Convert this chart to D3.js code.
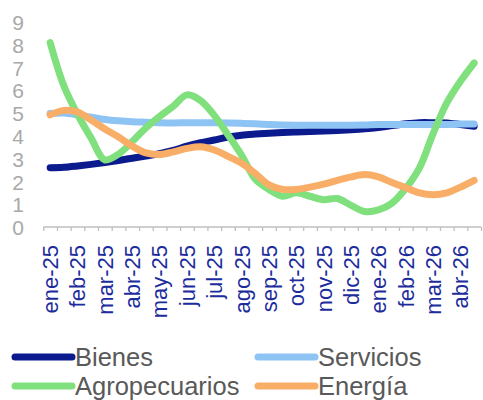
<!DOCTYPE html>
<html><head><meta charset="utf-8">
<script src="https://cdn.jsdelivr.net/npm/d3@7"></script>
<style>body{margin:0;background:#fff}svg{display:block}</style>
</head><body><svg id="c" width="483" height="400"></svg>
<script>
// Semi-monthly periods (two per month), labelled on the first half of each month
const categories = ["ene-25 I","ene-25 II","feb-25 I","feb-25 II","mar-25 I","mar-25 II","abr-25 I","abr-25 II",
  "may-25 I","may-25 II","jun-25 I","jun-25 II","jul-25 I","jul-25 II","ago-25 I","ago-25 II",
  "sep-25 I","sep-25 II","oct-25 I","oct-25 II","nov-25 I","nov-25 II","dic-25 I","dic-25 II",
  "ene-26 I","ene-26 II","feb-26 I","feb-26 II","mar-26 I","mar-26 II","abr-26 I","abr-26 II"];
const tickLabels = ["ene-25","","feb-25","","mar-25","","abr-25","","may-25","","jun-25","","jul-25","","ago-25","",
  "sep-25","","oct-25","","nov-25","","dic-25","","ene-26","","feb-26","","mar-26","","abr-26",""];
const yTicks = [0,1,2,3,4,5,6,7,8,9];

const bienes = [2.60,2.62,2.68,2.75,2.83,2.92,3.02,3.12,3.22,3.36,3.55,3.70,3.82,3.95,4.03,4.08,
  4.12,4.15,4.17,4.19,4.21,4.24,4.27,4.31,4.37,4.45,4.53,4.58,4.58,4.57,4.50,4.42];
const servicios = [4.98,5.00,4.92,4.82,4.72,4.66,4.62,4.60,4.58,4.57,4.58,4.58,4.58,4.57,4.55,4.53,
  4.50,4.48,4.47,4.47,4.47,4.47,4.47,4.48,4.50,4.50,4.50,4.50,4.50,4.50,4.52,4.52];
const agropecuarios = [8.10,6.20,4.95,3.90,2.95,3.20,3.75,4.35,4.85,5.30,5.80,5.55,4.90,4.05,3.15,2.10,
  1.65,1.35,1.50,1.35,1.20,1.25,0.95,0.68,0.75,1.05,1.70,2.60,4.10,5.45,6.40,7.20];
const energia = [4.92,5.12,5.05,4.70,4.30,3.95,3.55,3.25,3.18,3.30,3.45,3.52,3.38,3.10,2.80,2.35,
  1.85,1.65,1.65,1.75,1.88,2.05,2.20,2.30,2.20,1.95,1.72,1.50,1.42,1.50,1.75,2.05];

const seriesNames = ["Bienes","Servicios","Agropecuarios","Energía"];
const seriesColors = ["#0b1a8c","#8ec4f4","#7fe07d","#f9ae68"];
const seriesValues = [bienes, servicios, agropecuarios, energia];

const svg = d3.select("#c");
const font = "'Liberation Sans', Arial, sans-serif";

const x = d3.scaleBand().domain(categories).range([43.3, 481]).paddingInner(0).paddingOuter(0);
const y = d3.scaleLinear().domain([0, 9]).range([227, 22]);

// Y labels (no axis line)
const yAxis = d3.axisLeft(y).tickValues(yTicks).tickSize(0).tickPadding(0).tickFormat(d3.format("d"));
const gy = svg.append("g").attr("transform", "translate(24,0)").call(yAxis);
gy.select(".domain").remove();
gy.selectAll("text").attr("fill", "#a9a9a9").style("font-family", font).style("font-size", "21px")
  .attr("dy", "0.36em");

// X axis: line + ticks at category boundaries
const xb = d3.scaleLinear().domain([0, categories.length]).range(x.range());
const gxTicks = svg.append("g").attr("transform", "translate(0,227)")
  .call(d3.axisBottom(xb).tickValues(d3.range(0, categories.length + 1)).tickSize(4).tickFormat(""));
gxTicks.select(".domain").attr("stroke", "#bfbfbf").attr("stroke-width", 1.3).attr("d", `M${x.range()[0]},0H${x.range()[1]}`);
gxTicks.selectAll(".tick line").attr("stroke", "#bfbfbf").attr("stroke-width", 1.3);

// X labels rotated
const gx = svg.append("g").attr("transform", "translate(0,227)")
  .call(d3.axisBottom(x).tickSize(0).tickFormat((d, i) => tickLabels[i]));
gx.select(".domain").remove();
gx.selectAll("text")
  .attr("transform", "rotate(-90)")
  .attr("text-anchor", "end")
  .attr("x", -18).attr("y", 0).attr("dy", "0.36em")
  .attr("fill", "#1c2c9c")
  .style("font-family", font).style("font-size", "22px");

// Lines
const line = d3.line().x((d, i) => x(categories[i]) + x.bandwidth() / 2).y(d => y(d))
  .curve(d3.curveCatmullRom.alpha(0.5));
seriesValues.forEach((vals, k) => {
  svg.append("path").datum(vals).attr("d", line)
    .attr("fill", "none").attr("stroke", seriesColors[k]).attr("stroke-width", 7)
    .attr("stroke-linecap", "round").attr("stroke-linejoin", "round");
});

// Legend
const legPos = [[15, 357], [258, 357], [15, 386], [258, 386]];
seriesNames.forEach((name, k) => {
  const g = svg.append("g").attr("transform", `translate(${legPos[k][0]},${legPos[k][1]})`);
  g.append("line").attr("x1", 0).attr("x2", 57).attr("y1", 0).attr("y2", 0)
    .attr("stroke", seriesColors[k]).attr("stroke-width", 7).attr("stroke-linecap", "round");
  g.append("text").attr("x", 60).attr("y", 0).attr("dy", "0.36em").text(name)
    .attr("fill", "#595959").style("font-family", font).style("font-size", "25.5px");
});
</script>
</body></html>
